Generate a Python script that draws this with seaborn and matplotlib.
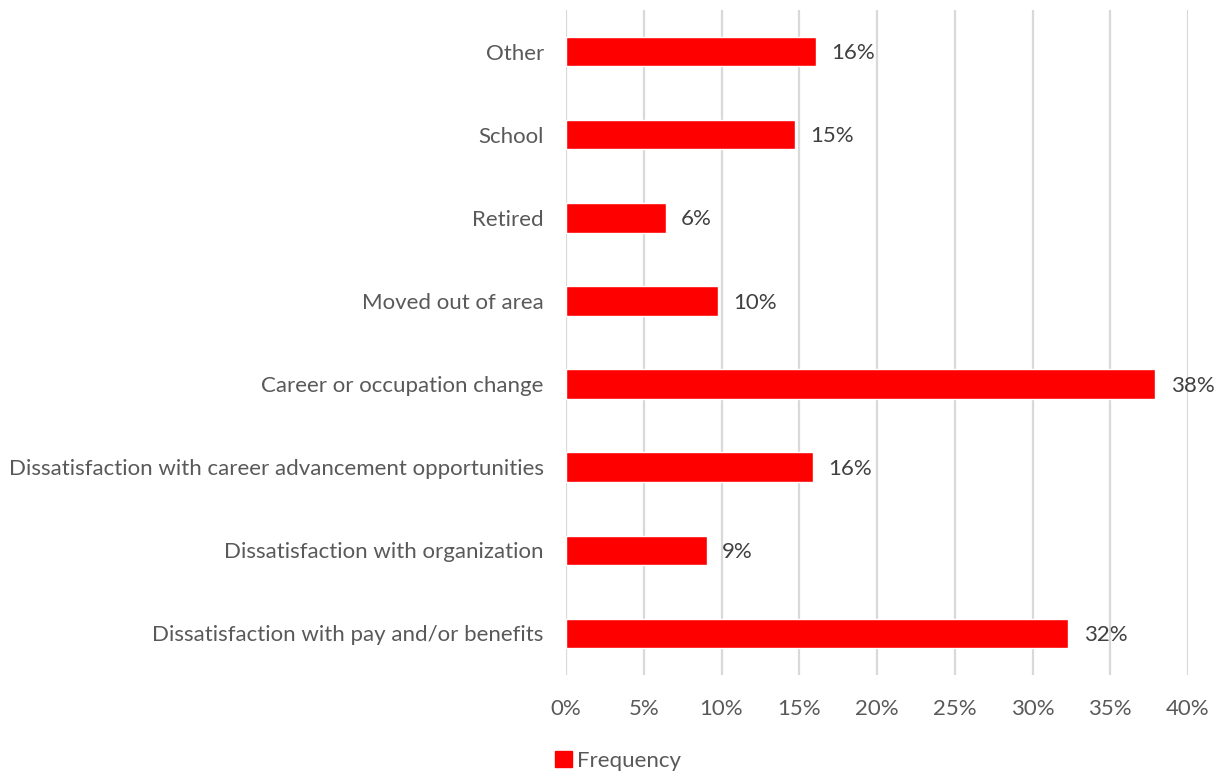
import matplotlib
matplotlib.use("Agg")
import matplotlib.pyplot as plt
import seaborn as sns
import pandas as pd
from matplotlib.ticker import FuncFormatter

# Reasons for leaving, top to bottom as displayed
reasons = [
    "Other",
    "School",
    "Retired",
    "Moved out of area",
    "Career or occupation change",
    "Dissatisfaction with career advancement opportunities",
    "Dissatisfaction with organization",
    "Dissatisfaction with pay and/or benefits",
]
frequency = [0.161, 0.147, 0.064, 0.098, 0.379, 0.159, 0.0905, 0.323]
x_ticks = [0.0, 0.05, 0.10, 0.15, 0.20, 0.25, 0.30, 0.35, 0.40]

df = pd.DataFrame({"reason": reasons, "frequency": frequency})

sns.set_theme(style="white")
plt.rcParams["font.family"] = ["Lato", "DejaVu Sans"]

TEXT = "#595959"
LABEL = "#404040"
GRID = "#d9d9d9"
BAR = "#ff0000"
FS = 16

fig = plt.figure(figsize=(12.25, 7.72), dpi=100)
ax = fig.add_axes([566 / 1225, 1 - 675 / 772, (1188 - 566) / 1225, (675 - 10) / 772])

sns.barplot(data=df, x="frequency", y="reason", orient="h", color=BAR,
            saturation=1, width=0.355, ax=ax, zorder=3)

ax.set_xlim(x_ticks[0], x_ticks[-1])
ax.set_xticks(x_ticks)
ax.xaxis.set_major_formatter(FuncFormatter(lambda v, _: f"{v * 100:.0f}%"))
ax.grid(axis="x", color=GRID, linewidth=1.6, zorder=0)
ax.grid(axis="y", visible=False)
for s in ax.spines.values():
    s.set_visible(False)
ax.set_xlabel("")
ax.set_ylabel("")
ax.tick_params(axis="both", length=0, labelsize=FS, colors=TEXT)
ax.tick_params(axis="y", pad=16)
ax.tick_params(axis="x", pad=17)

for bar, v in zip(ax.patches, frequency):
    ax.annotate(f"{v * 100:.0f}%", (bar.get_width(), bar.get_y() + bar.get_height() / 2),
                xytext=(11, -1.2), textcoords="offset points", va="center", ha="left",
                fontsize=FS, color=LABEL)

handle = plt.Rectangle((0, 0), 1, 1, color=BAR)
fig.legend([handle], ["Frequency"], loc="center", bbox_to_anchor=(618 / 1225, 1 - 761 / 772),
           frameon=False, fontsize=FS, labelcolor=TEXT, handlelength=0.75, handleheight=0.75,
           handletextpad=0.25)

fig.savefig("out.png", dpi=100)
